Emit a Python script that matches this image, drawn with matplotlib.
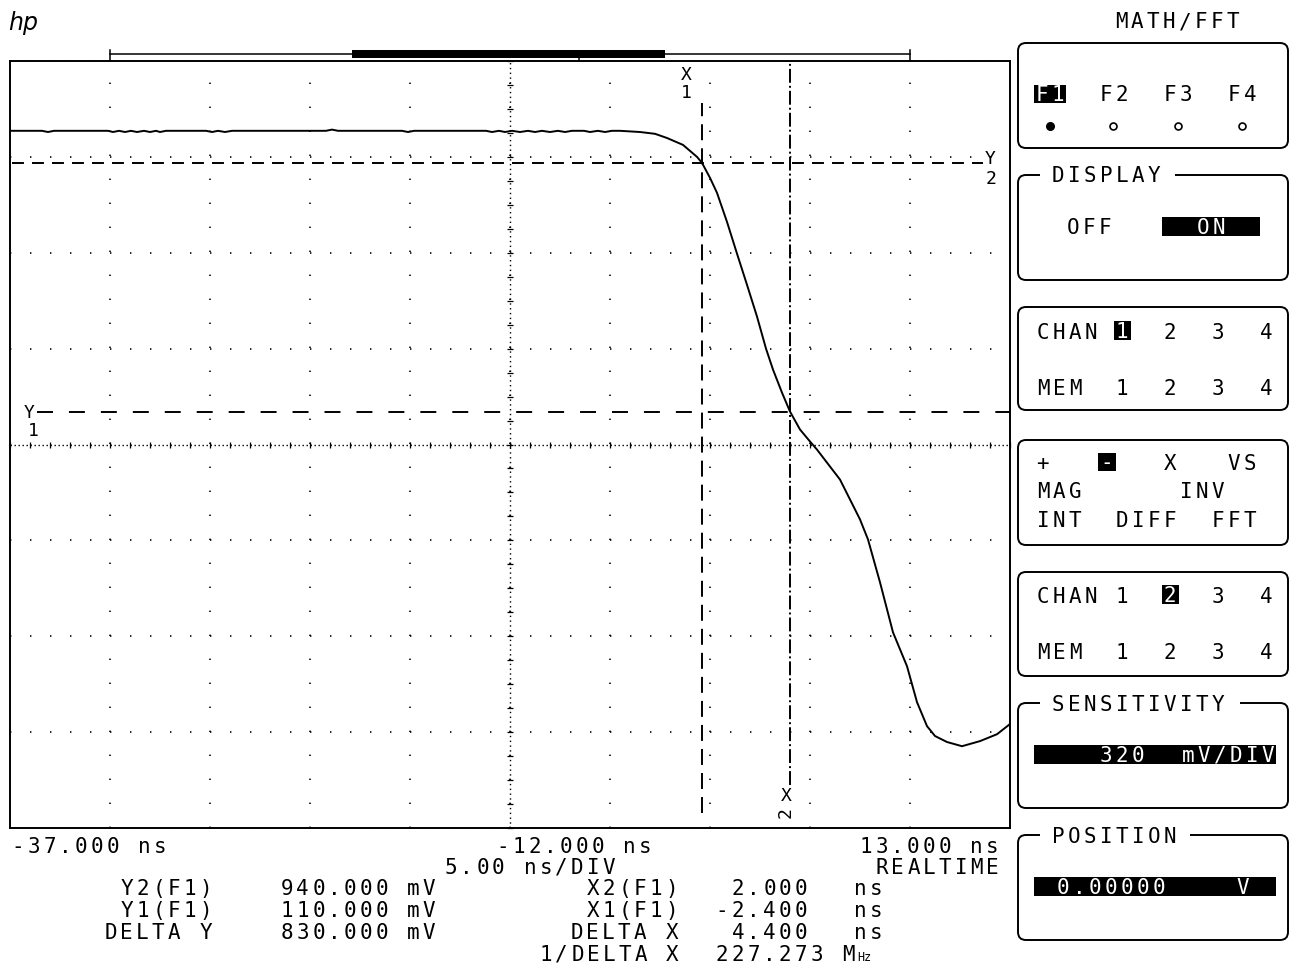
import matplotlib
matplotlib.use('Agg')
import matplotlib.pyplot as plt
from matplotlib.patches import FancyBboxPatch, Rectangle
from matplotlib.lines import Line2D
from matplotlib.transforms import Affine2D
from matplotlib.ticker import MultipleLocator

plt.rcParams['lines.scale_dashes'] = False

# trace F1 (ns, mV)
t_ns = [-37.0, -35.4, -35.1, -34.8,
        -32.1, -31.85, -31.55, -31.25, -30.95, -30.65, -30.3, -30.0, -29.7, -29.5, -29.2,
        -27.2, -26.9, -26.6, -26.25, -25.9,
        -21.2, -20.9, -20.6,
        -17.4, -17.1, -16.8,
        -13.2, -12.9, -12.55, -12.25, -11.9, -11.5, -11.1, -10.75, -10.4, -10.0, -9.6, -9.25, -8.9,
        -8.3, -8.0, -7.6, -7.25, -6.9, -6.5,
        -5.5, -4.75, -4.15, -3.35, -2.65, -2.4, -2.0, -1.65, -1.15, -0.65, -0.15, 0.35, 0.8,
        1.15, 1.6, 2.0, 2.5, 3.0, 3.35, 4.5, 5.5, 5.9, 6.5, 7.15, 7.85, 8.35,
        8.85, 9.25, 9.85, 10.6, 11.5, 12.35, 13.0]
v_mV = [1047, 1047, 1043, 1047,
        1047, 1043, 1047, 1043, 1047, 1043, 1047, 1043, 1047, 1043, 1047,
        1047, 1043, 1047, 1043, 1047,
        1047, 1051, 1047,
        1047, 1043, 1047,
        1047, 1043, 1047, 1043, 1047, 1043, 1047, 1043, 1047, 1043, 1047, 1043, 1047,
        1047, 1043, 1047, 1043, 1047, 1047,
        1043, 1037, 1023, 1000, 960, 940, 890, 840, 743, 637, 533, 427, 320,
        250, 173, 110, 50, 10, -17, -117, -250, -317, -460, -627, -740, -860,
        -940, -973, -993, -1007, -990, -967, -933]

# cursors
x1_ns, x2_ns = -2.4, 2.0
y1_mV, y2_mV = 110, 940

# screen settings
t_left, t_right, t_center = -37.0, 13.0, -12.0
ns_per_div = 5.0
mv_per_div = 320.0

bottom_rows = [
    ("-37.000 ns", 10, 853), ("-12.000 ns", 495, 853), ("13.000 ns", 858, 853),
    ("5.00 ns/DIV", 443, 874), ("REALTIME", 874, 874),
    ("Y2(F1)", 119, 895), ("940.000 mV", 279, 895), ("X2(F1)", 585, 895), ("2.000", 730, 895), ("ns", 852, 895),
    ("Y1(F1)", 119, 917), ("110.000 mV", 279, 917), ("X1(F1)", 585, 917), ("-2.400", 714, 917), ("ns", 852, 917),
    ("DELTA Y", 103, 939), ("830.000 mV", 279, 939), ("DELTA X", 569, 939), ("4.400", 730, 939), ("ns", 852, 939),
    ("1/DELTA X", 538, 961), ("227.273 M", 714, 961),
]

W, H = 1298, 969
fig = plt.figure(figsize=(W / 100, H / 100), dpi=100)
PX = Affine2D().scale(1.0 / W, -1.0 / H).translate(0, 1) + fig.transFigure
MONO = 'DejaVu Sans Mono'
FS = 15


def chars(x, yb, s, pitch=15.8, color='black', size=FS, **kw):
    for i, ch in enumerate(s):
        if ch == ' ':
            continue
        fig.text(x + pitch * (i + 0.5), yb, ch, transform=PX, ha='center',
                 va='baseline', family=MONO, fontsize=size, color=color, zorder=5, **kw)


def box(x0, y0, x1, y1):
    p = FancyBboxPatch((x0, y0), x1 - x0, y1 - y0, boxstyle='round,pad=0,rounding_size=8',
                       transform=PX, fc='none', ec='black', lw=1.4, zorder=1)
    fig.add_artist(p)


def inverse(x0, y0, x1, y1):
    fig.add_artist(Rectangle((x0, y0), x1 - x0, y1 - y0, transform=PX, fc='black', ec='none', zorder=3))


def title(x0, x1, y):
    fig.add_artist(Rectangle((x0, y - 4), x1 - x0, 8, transform=PX, fc='white', ec='none', zorder=2))


# scope screen
ax = fig.add_axes([10 / W, (H - 828) / H, 1000 / W, 767 / H])
ax.set_xlim(t_left, t_right)
ax.set_ylim(-4 * mv_per_div, 4 * mv_per_div)
ax.xaxis.set_major_locator(MultipleLocator(ns_per_div, offset=t_left % ns_per_div))
ax.yaxis.set_major_locator(MultipleLocator(mv_per_div))
ax.tick_params(which='both', length=0, labelbottom=False, labelleft=False)
ax.xaxis.grid(True, color='black', lw=1.2, linestyle=(0, (1.0, 16.28)))
ax.yaxis.grid(True, color='black', lw=1.2, linestyle=(0, (1.0, 13.4)))
for s in ax.spines.values():
    s.set_linewidth(1.4)

ax.axvline(t_center, color='black', lw=1.0, linestyle=(0, (1.0, 2.46)))
ax.axhline(0, color='black', lw=1.0, linestyle=(0, (1.0, 1.88)))

# center-line tick marks
ax2 = fig.add_axes(ax.get_position())
ax2.set_xlim(t_left, t_right)
ax2.set_ylim(-4 * mv_per_div, 4 * mv_per_div)
ax2.patch.set_visible(False)
ax2.spines['top'].set_visible(False)
ax2.spines['right'].set_visible(False)
ax2.spines['left'].set_position(('data', t_center))
ax2.spines['bottom'].set_position(('data', 0))
ax2.spines['left'].set_linewidth(0)
ax2.spines['bottom'].set_linewidth(0)
ax2.xaxis.set_major_locator(MultipleLocator(1))
ax2.yaxis.set_major_locator(MultipleLocator(mv_per_div / 4))
ax2.tick_params(direction='inout', length=5, width=0.9, color='black',
                labelbottom=False, labelleft=False)

# cursors
ax.axhline(y2_mV, xmin=0.002, xmax=0.973, color='black', lw=1.4, linestyle=(0, (8.6, 5.8)))
ax.axhline(y1_mV, xmin=0.027, xmax=1.0, color='black', lw=1.4, linestyle=(0, (11.5, 11.5)))
ax.axvline(x1_ns, ymin=0.02, ymax=0.945, color='black', lw=1.4, linestyle=(0, (11.5, 5.8)))
ax.axvline(x2_ns, ymin=0.056, ymax=1.0, color='black', lw=1.4, linestyle=(0, (10, 2.2, 1.4, 2.2)))

ax.plot(t_ns, v_mV, color='black', lw=1.4, zorder=4)

# cursor labels
chars(680, 80, "X", pitch=12, size=13)
chars(680, 98, "1", pitch=12, size=13)
chars(23, 418, "Y", pitch=12, size=13)
chars(27, 436, "1", pitch=12, size=13)
chars(984, 164, "Y", pitch=12, size=13)
chars(985, 184, "2", pitch=12, size=13)
chars(780, 801, "X", pitch=12, size=13)
fig.text(786, 813, "2", transform=PX, rotation=90, ha='center', va='center',
         family=MONO, fontsize=13, zorder=5)

# hp logo and record-length bar
fig.text(8, 30, "hp", transform=PX, fontsize=17, fontstyle='italic', family='DejaVu Sans',
         fontweight='light')
fig.add_artist(Line2D([110, 910], [54, 54], transform=PX, color='black', lw=1.1))
fig.add_artist(Line2D([110, 110], [50, 61], transform=PX, color='black', lw=1.1))
fig.add_artist(Line2D([910, 910], [50, 61], transform=PX, color='black', lw=1.1))
fig.add_artist(Line2D([579, 579], [54, 61], transform=PX, color='black', lw=1.1))
fig.add_artist(Rectangle((352, 49.5), 313, 8, transform=PX, fc='black', ec='none'))

# bottom readout
for s, x, yb in bottom_rows:
    chars(x, yb, s)
fig.text(714 + 15.8 * 9.5, 961, "Hz", transform=PX, ha='center', va='baseline',
         family=MONO, fontsize=8.5)

# right-hand menu
P = 16
chars(1113, 28, "MATH/FFT", pitch=P)

box(1018, 43, 1288, 148)
inverse(1034, 85, 1066, 103)
chars(1034, 101, "F1", pitch=P, color='white')
chars(1098, 101, "F2", pitch=P)
chars(1162, 101, "F3", pitch=P)
chars(1226, 101, "F4", pitch=P)
fig.add_artist(Line2D([1050], [126], transform=PX, marker='o', ms=5.5, color='black', ls='none'))
fig.add_artist(Line2D([1113, 1178, 1242], [126, 126, 126], transform=PX, marker='o', ms=5,
                      mfc='white', mec='black', mew=1.2, ls='none'))

box(1018, 175, 1288, 280)
title(1040, 1175, 175)
chars(1050, 182, "DISPLAY", pitch=P)
chars(1065, 234, "OFF", pitch=P)
inverse(1162, 217, 1260, 236)
chars(1195, 234, "ON", pitch=P, color='white')

box(1018, 307, 1288, 410)
chars(1035, 339, "CHAN", pitch=P)
inverse(1114, 321, 1131, 340)
chars(1114, 338, "1", pitch=P, color='white')
chars(1162, 339, "2", pitch=P)
chars(1210, 339, "3", pitch=P)
chars(1258, 339, "4", pitch=P)
chars(1035, 395, "MEM", pitch=P)
for i, d in enumerate("1234"):
    chars(1114 + 48 * i, 395, d, pitch=P)

box(1018, 440, 1288, 545)
chars(1034, 470, "+", pitch=P)
inverse(1098, 453, 1116, 471)
chars(1099, 469, "-", pitch=P, color='white')
chars(1162, 470, "X", pitch=P)
chars(1226, 470, "VS", pitch=P)
chars(1035, 498, "MAG", pitch=P)
chars(1178, 498, "INV", pitch=P)
chars(1035, 527, "INT", pitch=P)
chars(1114, 527, "DIFF", pitch=P)
chars(1210, 527, "FFT", pitch=P)

box(1018, 572, 1288, 676)
chars(1035, 603, "CHAN", pitch=P)
chars(1114, 603, "1", pitch=P)
inverse(1162, 585, 1179, 604)
chars(1162, 602, "2", pitch=P, color='white')
chars(1210, 603, "3", pitch=P)
chars(1258, 603, "4", pitch=P)
chars(1035, 659, "MEM", pitch=P)
for i, d in enumerate("1234"):
    chars(1114 + 48 * i, 659, d, pitch=P)

box(1018, 703, 1288, 808)
title(1040, 1240, 703)
chars(1050, 711, "SENSITIVITY", pitch=P)
inverse(1034, 745, 1276, 764)
chars(1098, 762, "320", pitch=P, color='white')
chars(1180, 762, "mV/DIV", pitch=P, color='white')

box(1018, 835, 1288, 940)
title(1040, 1190, 835)
chars(1050, 843, "POSITION", pitch=P)
inverse(1034, 877, 1276, 896)
chars(1055, 894, "0.00000", pitch=P, color='white')
chars(1235, 894, "V", pitch=P, color='white')

fig.savefig('out.png', dpi=100, facecolor='white')
